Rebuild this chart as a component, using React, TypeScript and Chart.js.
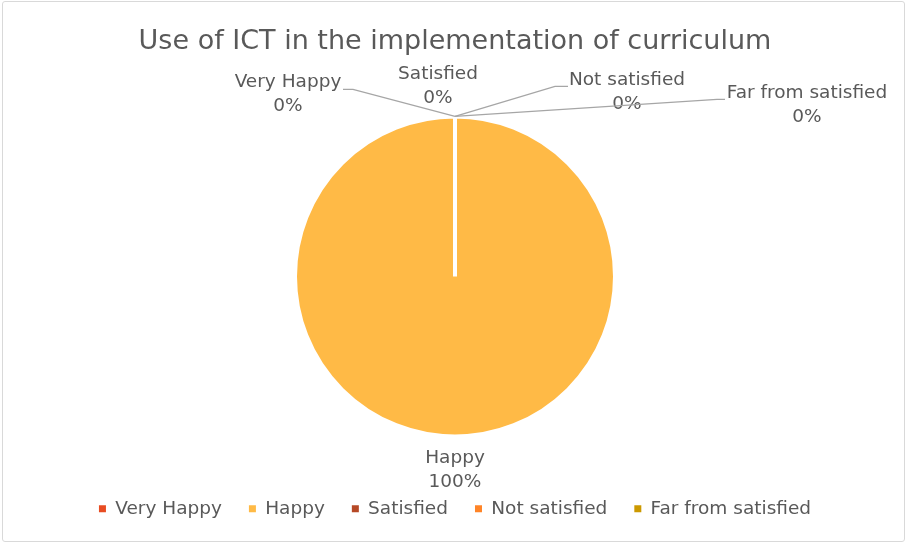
import React, { useEffect, useRef } from "react";
import { Chart, registerables } from "chart.js";

Chart.register(...registerables);

const categories = ["Very Happy", "Happy", "Satisfied", "Not satisfied", "Far from satisfied"];
const values = [0, 100, 0, 0, 0];
const colors = ["#E84C22", "#FFBA46", "#B64926", "#FF8427", "#CC9900"];
const titleText = "Use of ICT in the implementation of curriculum";

// label placement (style): offset of label text relative to the slice anchor, and leader line points
const labelLayout = [
  { dx: -167, dy: -34, leader: [[-102, -27], [-112, -27]] },
  { dx: 0, dy: 22, leader: [] },
  { dx: -17, dy: -42, leader: [] },
  { dx: 172, dy: -36, leader: [[100, -30], [113, -30]] },
  { dx: 352, dy: -23, leader: [[262, -17], [270, -17]] },
];

const FONT = "'DejaVu Sans', sans-serif";
const TEXT = "#595959";

const labelPlugin = {
  id: "pieLabels",
  afterDatasetsDraw(chart: any) {
    const ctx = chart.ctx;
    const meta = chart.getDatasetMeta(0);
    const data = chart.data.datasets[0].data as number[];
    const total = data.reduce((a, b) => a + b, 0);
    ctx.save();
    meta.data.forEach((arc: any, i: number) => {
      const { x, y, startAngle, endAngle, outerRadius } = arc.getProps(
        ["x", "y", "startAngle", "endAngle", "outerRadius"],
        true
      );
      const mid = (startAngle + endAngle) / 2;
      const ax = x + Math.cos(mid) * outerRadius;
      const ay = y + Math.sin(mid) * outerRadius;
      const lay = labelLayout[i];
      if (lay.leader.length) {
        ctx.beginPath();
        ctx.strokeStyle = "#A6A6A6";
        ctx.lineWidth = 1.3;
        ctx.moveTo(ax, ay);
        lay.leader.forEach((p: number[]) => ctx.lineTo(ax + p[0], ay + p[1]));
        ctx.stroke();
      }
      const pct = Math.round((data[i] / total) * 100) + "%";
      ctx.fillStyle = TEXT;
      ctx.font = `18.5px ${FONT}`;
      ctx.textAlign = "center";
      ctx.textBaseline = "middle";
      ctx.fillText(chart.data.labels[i], ax + lay.dx, ay + lay.dy);
      ctx.fillText(pct, ax + lay.dx, ay + lay.dy + 23.5);
    });
    ctx.restore();
  },
};

export default function App() {
  const ref = useRef<HTMLCanvasElement>(null);
  useEffect(() => {
    if (!ref.current) return;
    const chart = new Chart(ref.current, {
      type: "pie",
      data: {
        labels: categories,
        datasets: [
          {
            data: values,
            backgroundColor: colors,
            borderColor: "#FFFFFF",
            borderWidth: values.map((v) => (v > 0 ? 4 : 0)),
          },
        ],
      },
      options: {
        responsive: false,
        animation: false,
        radius: 160,
        layout: { padding: { left: 3, right: 0, top: 0, bottom: 16 } },
        plugins: {
          tooltip: { enabled: false },
          title: {
            display: true,
            text: titleText,
            color: TEXT,
            font: { family: FONT, size: 27, weight: "normal" },
            padding: { top: 26, bottom: 22 },
          },
          legend: {
            position: "bottom",
            labels: {
              color: TEXT,
              font: { family: FONT, size: 18.5 },
              boxWidth: 7,
              boxHeight: 7,
              padding: 27,
              generateLabels(c: any) {
                const items = Chart.overrides.pie.plugins.legend.labels.generateLabels(c);
                return items.map((it: any) => ({ ...it, lineWidth: 0, strokeStyle: "transparent" }));
              },
            },
          },
        },
      } as any,
      plugins: [labelPlugin],
    });
    return () => chart.destroy();
  }, []);
  return (
    <div style={{ position: "fixed", left: 0, top: 0, width: 907, height: 544, background: "#fff" }}>
      <canvas ref={ref} width={907} height={544} style={{ position: "absolute", left: 0, top: 0 }} />
      <div
        style={{
          position: "absolute",
          left: 2,
          top: 1,
          width: 903,
          height: 541,
          border: "1.5px solid #D9D9D9",
          boxSizing: "border-box",
          borderRadius: 3,
          pointerEvents: "none",
        }}
      />
    </div>
  );
}
